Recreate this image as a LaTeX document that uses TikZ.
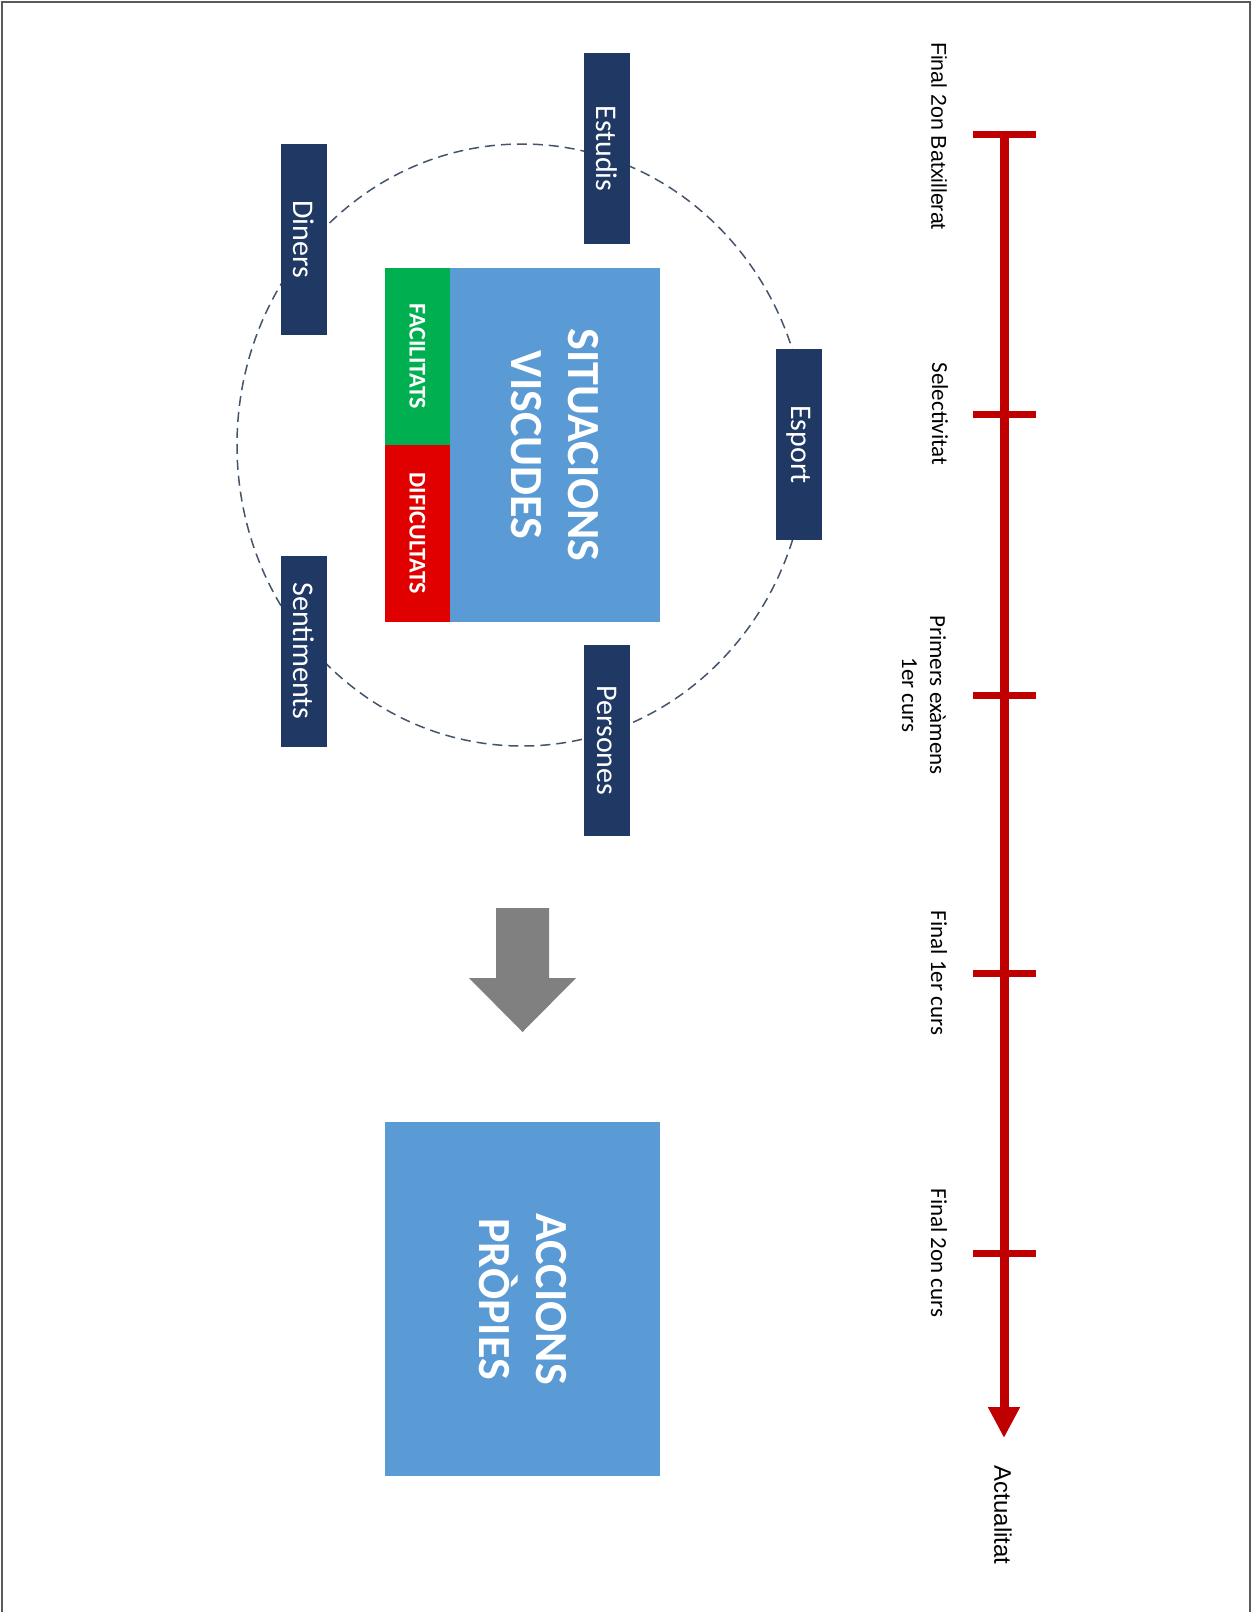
\documentclass[tikz,border=0pt]{standalone}
\usepackage{fontspec}
\setmainfont{Carlito}
\newfontfamily\arialfont{Liberation Sans}
\usetikzlibrary{arrows.meta}
\definecolor{navy}{HTML}{1F3864}
\definecolor{lightblue}{HTML}{5B9BD5}
\definecolor{facgreen}{HTML}{00B050}
\definecolor{difred}{HTML}{E00000}
\definecolor{timered}{HTML}{C00000}
\definecolor{arrowgray}{HTML}{808080}
\definecolor{dashcol}{HTML}{44546A}
\definecolor{framegray}{HTML}{5A5A5A}
\tikzset{
  darkbox/.style={fill=navy, text=white, rotate=-90, minimum width=191pt, minimum height=46pt,
    inner sep=0pt, font=\fontsize{30}{36}\selectfont},
  bigbox/.style={fill=lightblue, text=white, rotate=-90, inner sep=0pt, align=center,
    font=\fontsize{46}{57}\selectfont\bfseries},
  smallbox/.style={text=white, rotate=-90, inner sep=0pt, minimum width=177pt, minimum height=65pt,
    font=\fontsize{24}{28}\selectfont\bfseries},
  tlabel/.style={rotate=-90, inner sep=0pt, align=center, font=\fontsize{23}{28}\selectfont},
  tick/.style={draw=timered, line width=7pt},
  dashring/.style={draw=dashcol, line width=1.5pt, dash pattern=on 10pt off 6pt},
}
\begin{document}
\begin{tikzpicture}[x=1pt,y=-1pt]
\useasboundingbox (0,0) rectangle (1258,1612);
% frame
\draw[framegray, line width=2.5pt] (2,1612) -- (2,2) -- (1250,2) -- (1250,1612);

% timeline
\coordinate (t0) at (1004,134);
\coordinate (t1) at (1004,414);
\coordinate (t2) at (1004,695);
\coordinate (t3) at (1004,973);
\coordinate (t4) at (1004,1253);
\coordinate (tend) at (1004,1438);
\draw[timered, line width=9pt, -{Triangle[width=30pt,length=31pt]}] (t0) -- (tend);
\foreach \t in {t0,t1,t2,t3,t4}{
  \draw[tick] ([xshift=-31pt]\t) -- ([xshift=32pt]\t);
}
\node[tlabel, font=\fontsize{21.4}{26}\selectfont\arialfont] (l0) at (939,136) {Final 2on Batxillerat};
\node[tlabel] (l1) at (940,414) {Selectivitat};
\node[tlabel] (l2) at (924,695) {Primers exàmens\\1er curs};
\node[tlabel] (l3) at (939,973) {Final 1er curs};
\node[tlabel] (l4) at (939,1253) {Final 2on curs};
\node[tlabel, font=\fontsize{24}{28}\selectfont\arialfont] (l5) at (1003,1515) {Actualitat};

% dashed ring
\draw[dashring] (522,445) ellipse [x radius=285, y radius=301];

% central box
\node[bigbox, minimum width=354pt, minimum height=211pt] (sit) at (554.5,445) {SITUACIONS\\VISCUDES};
\node[smallbox, fill=facgreen] (fac) at (417.5,356.5) {FACILITATS};
\node[smallbox, fill=difred] (dif) at (417.5,533.5) {DIFICULTATS};

% satellite boxes
\node[darkbox] (estudis) at (607,148.5) {Estudis};
\node[darkbox] (diners) at (304,239) {Diners};
\node[darkbox] (esport) at (799,444.5) {Esport};
\node[darkbox] (sentiments) at (304,651) {Sentiments};
\node[darkbox] (persones) at (607,740.5) {Persones};

% gray arrow
\fill[arrowgray] (496,908) -- (549,908) -- (549,978) -- (576,978) -- (522.5,1032) -- (469,978) -- (496,978) -- cycle;

% bottom box
\node[bigbox, minimum width=354pt, minimum height=275pt] (acc) at (522.5,1299) {ACCIONS\\PRÒPIES};
\end{tikzpicture}
\end{document}
